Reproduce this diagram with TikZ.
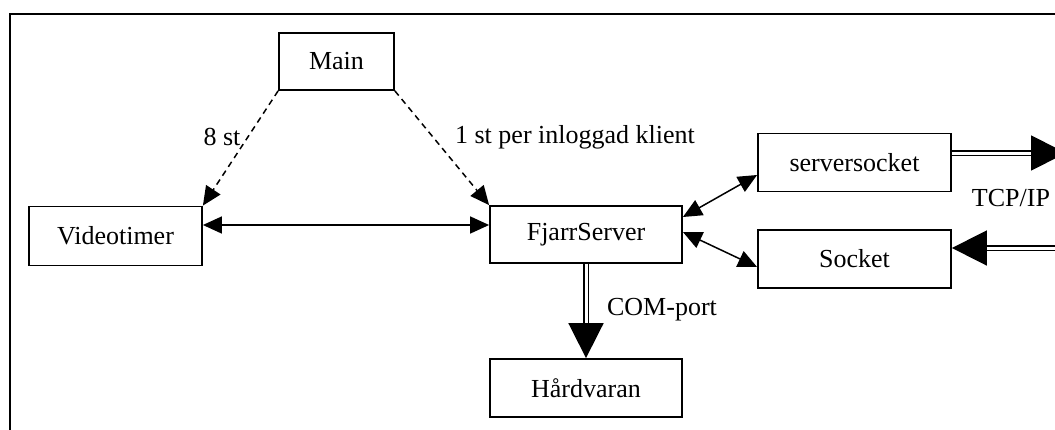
\documentclass[tikz,border=0pt]{standalone}
\usepackage{fontspec}
\setmainfont{Liberation Serif}
\usepackage{tikz}
\usetikzlibrary{positioning, arrows.meta}

\tikzset{
  blockbox/.style={draw, line width=0.9pt, inner sep=0pt, minimum width=96.5pt, minimum height=29pt},
  link/.style={line width=0.75pt, {Triangle[length=9.5pt, width=8.5pt]}-{Triangle[length=9.5pt, width=8.5pt]}},
  spawn/.style={line width=0.75pt, dash pattern=on 3pt off 2.3pt, -{Triangle[length=9.5pt, width=8.5pt]}},
  pipe/.style={line width=0.85pt, double, double distance=1.5pt, -{Triangle[length=17.5pt, width=17.5pt]}}
}

\begin{document}
\begin{tikzpicture}[x=0.5pt, y=-0.5pt, font=\fontsize{13}{15.6}\selectfont]

\useasboundingbox (0,0) rectangle (1055,429);

% frame, cut off at right and bottom
\draw[line width=1.2pt] (1060,14) -- (10,14) -- (10,435);

\node[blockbox, minimum width=57.5pt, minimum height=28.5pt] (Main) at (336.5,61.5) {Main};
\node[blockbox, minimum width=86.5pt, minimum height=29.5pt] (Videotimer) at (115.5,236) {Videotimer};
\node[blockbox, minimum width=96pt, minimum height=28.5pt] (FjarrServer) at (586,234.5) {FjarrServer};
\node[blockbox] (serversocket) at (854.5,162.5) {serversocket};
\node[blockbox] (Socket) at (854.5,259) {Socket};
\node[blockbox, minimum width=96pt] (Hardvaran) at (586,388) {Hårdvaran};

\coordinate (tcpout) at (1066,153);
\coordinate (tcpin) at (1080,248);

\draw[spawn] (Main.south west) -- (Videotimer.north east);
\draw[spawn] (Main.south east) -- (FjarrServer.north west);
\draw[link] (Videotimer.east |- 0,225) -- (FjarrServer.west |- 0,225);
\draw[link] (FjarrServer.east |- 0,217) -- (serversocket.west |- 0,175);
\draw[link] (FjarrServer.east |- 0,232) -- (Socket.west |- 0,267);

\draw[pipe] (FjarrServer.south) -- (Hardvaran.north);
\draw[pipe] (serversocket.east |- tcpout) -- (tcpout);
\draw[pipe] (tcpin) -- (Socket.east |- tcpin);

\node (eight) at (222,137) {8 st};
\node (perclient) at (575,137) {1 st per inloggad klient};
\node (tcp) at (1011,198) {TCP/IP};
\node (com) at (662,310) {COM-port};

\end{tikzpicture}
\end{document}
